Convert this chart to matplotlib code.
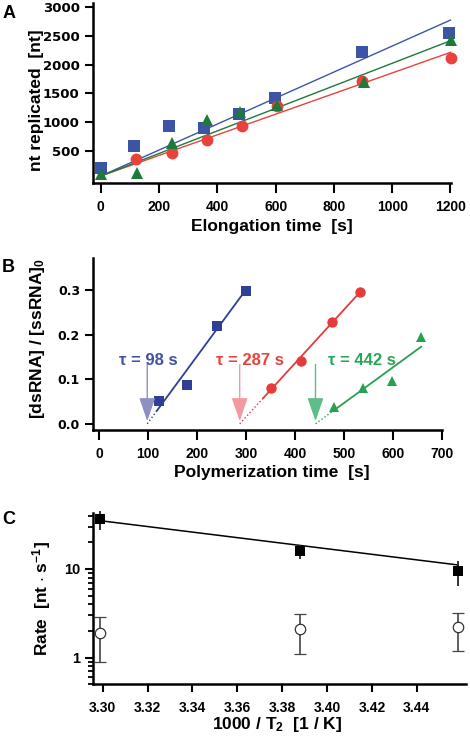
import matplotlib
matplotlib.use("Agg")
import matplotlib.pyplot as plt
from matplotlib.ticker import NullFormatter, LogLocator
import numpy as np

plt.rcParams['font.family'] = ['Liberation Sans', 'DejaVu Sans']
plt.rcParams['mathtext.fontset'] = 'custom'
plt.rcParams['mathtext.rm'] = 'Liberation Sans:bold'
plt.rcParams['mathtext.bf'] = 'Liberation Sans:bold'
plt.rcParams['mathtext.it'] = 'Liberation Sans:bold'

# ---------------- Data ----------------
# Panel A
a_blue_x = [0, 114, 235, 353, 473, 599, 895, 1195]
a_blue_y = [200, 587, 934, 905, 1137, 1415, 2224, 2543]
a_red_x = [121, 244, 366, 484, 605, 897, 1202]
a_red_y = [356, 471, 691, 934, 1281, 1715, 2120]
a_green_x = [0, 124, 244, 366, 479, 605, 903, 1202]
a_green_y = [101, 113, 634, 1038, 1182, 1299, 1703, 2427]
a_fit_slope = [2.256, 1.789, 1.957]      # blue, red, green
a_fit_icpt = [66, 66, 66]
a_fit_range = [0, 1200]
a_xticks = [0, 200, 400, 600, 800, 1000, 1200]
a_yticks = [500, 1000, 1500, 2000, 2500, 3000]

# Panel B
b_blue_x = [122.7, 178.7, 240, 299]
b_blue_y = [0.052, 0.087, 0.219, 0.298]
b_red_x = [350, 412, 475, 533]
b_red_y = [0.080, 0.141, 0.229, 0.296]
b_green_x = [480, 540, 598, 658]
b_green_y = [0.038, 0.080, 0.096, 0.194]
b_tau = [98, 287, 442]
b_slope = [0.00149, 0.00120, 0.00080]
b_solid_start = [118, 335, 478]
b_solid_end = [298, 533, 658]
b_tau_labels = ["τ = 98 s", "τ = 287 s", "τ = 442 s"]
b_label_x = [41, 239, 468]
b_xticks = [0, 100, 200, 300, 400, 500, 600, 700]
b_yticks = [0.0, 0.1, 0.2, 0.3]

# Panel C
c_x = [3.2987, 3.3881, 3.4584]
c_sq_y = [36.6, 16.0, 9.57]
c_sq_hi = [45.4, 18.6, 12.4]
c_sq_lo = [27.5, 13.0, 6.49]
c_ci_y = [1.91, 2.09, 2.20]
c_ci_hi = [2.90, 3.09, 3.22]
c_ci_lo = [0.89, 1.10, 1.20]
c_fit_x = [3.2987, 3.4584]
c_fit_y = [35.1, 11.1]
c_xticks = [3.30, 3.32, 3.34, 3.36, 3.38, 3.40, 3.42, 3.44]

# ---------------- Figure ----------------
W, H = 470, 740
fig = plt.figure(figsize=(W / 100, H / 100), dpi=100)


def add_ax(l, t, r, b):
    return fig.add_axes([l / W, 1 - b / H, (r - l) / W, (b - t) / H])


def style(ax):
    for s in ['top', 'right']:
        ax.spines[s].set_visible(False)
    for s in ['left', 'bottom']:
        ax.spines[s].set_linewidth(1.8)
    ax.tick_params(which='major', direction='out', length=7, width=1.5, pad=3)
    ax.tick_params(axis='x', length=7, pad=5)
    ax.tick_params(axis='y', length=5.5, pad=4)


def ftext(x, y, s, **kw):
    fig.text(x / W, 1 - y / H, s, ha='center', va='center', **kw)


LAB = dict(fontsize=12.5, fontweight='bold', family='Liberation Sans')
WIDE = dict(fontfamily='DejaVu Sans', fontweight='bold', fontsize=9.5)
NARROW = dict(fontfamily='Liberation Sans', fontweight='bold', fontsize=10)

# ---- Panel A ----
blue_a, red_a, green_a = '#3B54A6', '#E8423C', '#1D7A3B'
axA = add_ax(93, 3, 450.7, 183.3)
style(axA)
axA.set_xlim(-27, 1201)
axA.set_ylim(-61, 3070)
xr = np.array(a_fit_range, dtype=float)
for sl, ic, c in zip(a_fit_slope, a_fit_icpt, [blue_a, red_a, green_a]):
    axA.plot(xr, ic + sl * xr, color=c, lw=1.0, clip_on=False, zorder=2)
axA.plot(a_blue_x, a_blue_y, 's', color=blue_a, ms=8.5, mew=0, clip_on=False, zorder=3)
axA.plot(a_red_x, a_red_y, 'o', color=red_a, ms=8.5, mew=0, clip_on=False, zorder=3)
axA.plot(a_green_x, a_green_y, '^', color=green_a, ms=8.5, mew=0, clip_on=False, zorder=3)
axA.set_xticks(a_xticks, [str(v) for v in a_xticks], **NARROW)
axA.set_yticks(a_yticks, [str(v) for v in a_yticks], **WIDE)
ftext(271.7, 227, 'Elongation time  [s]', **LAB)
fig.text(37 / W, 1 - 100 / H, 'nt replicated  [nt]', rotation=90, ha='center', va='center', **LAB)
fig.text(3 / W, 1 - 13 / H, 'A', ha='left', va='center', fontsize=13, fontweight='bold')

# ---- Panel B ----
blue_b, red_b, green_b = '#2F3F97', '#E63B3B', '#27A04F'
arr_cols = ['#8C90C2', '#F29AA0', '#5DBE88']
txt_cols = ['#4352A3', '#E8423C', '#2CA558']
axB = add_ax(93.3, 258, 441.7, 430)
style(axB)
axB.set_xlim(-12.3, 700)
axB.set_ylim(-0.0139, 0.3717)
for tau, sl, s0, s1, c in zip(b_tau, b_slope, b_solid_start, b_solid_end, [blue_b, red_b, green_b]):
    xd = np.array([tau, s0], dtype=float)
    axB.plot(xd, sl * (xd - tau), ':', color=c, lw=1.0, zorder=2)
    xs = np.array([s0, s1], dtype=float)
    axB.plot(xs, sl * (xs - tau), '-', color=c, lw=1.3, zorder=2)
axB.plot(b_blue_x, b_blue_y, 's', color=blue_b, ms=7.5, mew=0, zorder=3, clip_on=False)
axB.plot(b_red_x, b_red_y, 'o', color=red_b, ms=7.5, mew=0, zorder=3, clip_on=False)
axB.plot(b_green_x, b_green_y, '^', color=green_b, ms=7.5, mew=0, zorder=3, clip_on=False)
for tau, lab, lx, ac, tc in zip(b_tau, b_tau_labels, b_label_x, arr_cols, txt_cols):
    axB.annotate('', xy=(tau, 0.006), xytext=(tau, 0.133),
                 arrowprops=dict(arrowstyle='-|>,head_length=1.45,head_width=0.5',
                                 mutation_scale=10, color=ac, lw=1.0,
                                 shrinkA=0, shrinkB=0))
    axB.text(lx, 0.143, lab, color=tc, fontsize=12, fontweight='bold',
             ha='left', va='center')
axB.set_xticks(b_xticks, [str(v) for v in b_xticks], **NARROW)
axB.set_yticks(b_yticks, ['%.1f' % v for v in b_yticks], **dict(WIDE, fontsize=9))
ftext(271.7, 472, 'Polymerization time  [s]', **LAB)
fig.text(38 / W, 1 - 339 / H, r'[dsRNA] / [ssRNA]$_{\mathbf{0}}$', rotation=90,
         ha='center', va='center', **LAB)
fig.text(2 / W, 1 - 267 / H, 'B', ha='left', va='center', fontsize=13, fontweight='bold')

# ---- Panel C ----
axC = add_ax(93.3, 513, 466, 684.3)
style(axC)
axC.set_yscale('log')
axC.set_xlim(3.2958, 3.4620)
axC.set_ylim(0.50, 42.8)
axC.plot(c_fit_x, c_fit_y, '-', color='black', lw=1.1, zorder=2)
sq_err = [np.array(c_sq_y) - np.array(c_sq_lo), np.array(c_sq_hi) - np.array(c_sq_y)]
ci_err = [np.array(c_ci_y) - np.array(c_ci_lo), np.array(c_ci_hi) - np.array(c_ci_y)]
axC.errorbar(c_x, c_sq_y, yerr=sq_err, fmt='s', color='black', ms=7, mew=0,
             ecolor='#222222', elinewidth=1.3, capsize=4, capthick=1.3,
             clip_on=False, zorder=3)
axC.errorbar(c_x, c_ci_y, yerr=ci_err, fmt='o', mfc='white', mec='#333333', ms=7.5,
             mew=0.9, ecolor='#444444', elinewidth=1.2, capsize=4, capthick=1.2,
             clip_on=False, zorder=3)
axC.set_xticks(c_xticks, ['%.2f' % v for v in c_xticks], **NARROW)
axC.set_yticks([1, 10], ['1', '10'], **dict(NARROW, fontsize=10.5))
axC.yaxis.set_minor_locator(LogLocator(base=10, subs=np.arange(2, 10)))
axC.yaxis.set_minor_formatter(NullFormatter())
axC.tick_params(axis='y', which='minor', length=3.5, width=1.3)
axC.tick_params(axis='x', length=6, pad=6)
ftext(276.7, 724, r'1000 / T$_{\mathbf{2}}$  [1 / K]', **LAB)
fig.text(41.7 / W, 1 - 599 / H, r'Rate  [nt $\cdot$ s$^{\mathbf{-1}}$]', rotation=90,
         ha='center', va='center', **LAB)
fig.text(2 / W, 1 - 520 / H, 'C', ha='left', va='center', fontsize=13, fontweight='bold')

fig.savefig('out.png', dpi=100)
